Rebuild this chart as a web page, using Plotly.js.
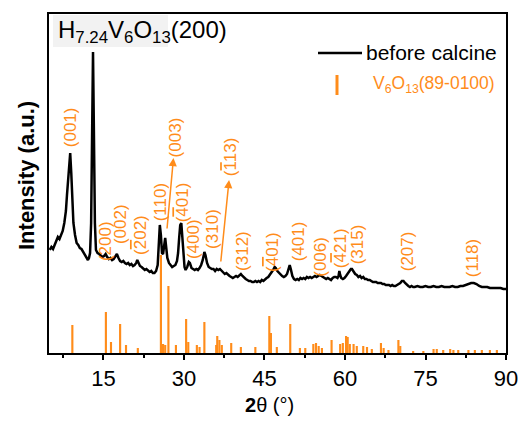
<!DOCTYPE html>
<html>
<head>
<meta charset="utf-8">
<script src="https://cdn.plot.ly/plotly-3.0.1.min.js"></script>
<style>html,body{margin:0;padding:0;background:#fff;}#chart{width:523px;height:421px;}</style>
</head>
<body>
<div id="chart"></div>
<script>
// ---- measured XRD curve (2θ in degrees, intensity in arbitrary units) ----
const twoTheta = [5.0,5.3,5.6,5.9,6.2,6.5,6.8,7.1,7.4,7.7,8.0,8.2,8.4,8.6,8.8,9.0,9.2,9.4,9.7,10.0,10.3,10.6,10.9,11.2,11.5,11.8,12.1,12.3,12.5,12.7,12.9,13.05,13.2,13.4,13.6,13.9,14.2,14.5,14.8,15.1,15.4,15.7,16.0,16.3,16.6,16.9,17.2,17.5,17.8,18.1,18.4,18.7,19.0,19.3,19.6,19.9,20.2,20.5,20.8,21.1,21.3,21.5,21.8,22.1,22.4,22.7,23.0,23.3,23.6,23.9,24.2,24.5,24.8,25.1,25.3,25.5,25.7,25.9,26.1,26.3,26.5,26.7,26.9,27.2,27.5,27.8,28.1,28.4,28.7,28.9,29.1,29.3,29.5,29.7,29.9,30.1,30.3,30.6,30.9,31.1,31.4,31.7,32.0,32.3,32.6,32.9,33.2,33.5,33.8,34.0,34.3,34.6,34.9,35.2,35.5,35.8,36.1,36.4,36.7,37.0,37.3,37.6,37.9,38.2,38.5,38.8,39.1,39.4,39.7,40.0,40.3,40.6,40.9,41.2,41.5,41.8,42.1,42.4,42.7,43.0,43.3,43.6,43.9,44.2,44.5,44.8,45.1,45.4,45.7,46.0,46.3,46.6,46.9,47.1,47.4,47.7,48.0,48.3,48.6,48.9,49.2,49.5,49.7,49.9,50.2,50.5,50.8,51.1,51.4,51.7,52.0,52.3,52.6,52.9,53.2,53.5,53.8,54.1,54.4,54.7,55.0,55.3,55.6,55.9,56.2,56.5,56.8,57.1,57.4,57.7,58.0,58.3,58.6,58.8,58.95,59.1,59.3,59.6,59.9,60.2,60.5,60.8,61.1,61.3,61.6,61.9,62.2,62.5,62.8,63.1,63.4,63.7,64.0,64.3,64.6,64.9,65.2,65.5,65.8,66.1,66.4,66.7,67.0,67.3,67.6,67.9,68.2,68.5,68.8,69.1,69.4,69.7,70.0,70.3,70.6,70.9,71.2,71.5,71.8,72.1,72.4,72.7,73.0,73.5,74.0,74.5,75.0,75.5,76.0,76.5,77.0,77.5,78.0,78.5,79.0,79.5,80.0,80.5,81.0,81.5,82.0,82.5,83.0,83.5,84.0,84.5,85.0,85.5,86.0,86.5,87.0,87.5,88.0,88.5,89.0,89.5,90.0];
const intensity = [103,106,104,108,111,116,114,118,122,130,142,158,175,190,200,180,150,130,118,110,108,105,104,101,99,96,93,95,100,130,220,301,230,130,103,100,99,97,96,97,99,96,94,95,93,94,96,99,95,92,91,92,90,89,90,88,89,87,88,90,93,90,87,86,84,83,84,82,81,82,80,80,82,88,105,128,118,100,99,108,115,105,95,90,88,86,87,88,92,100,115,128,130,118,98,86,83,86,91,90,85,84,83,84,83,85,88,93,101,98,90,86,85,84,84,82,84,83,84,82,80,79,80,78,77,76,75,76,77,76,78,79,77,75,74,73,72,72,71,71,72,71,72,71,73,72,74,75,76,78,80,83,86,85,82,80,78,77,76,77,79,84,88,84,77,74,73,74,73,75,74,75,74,76,75,76,75,76,77,76,77,78,77,76,75,74,75,74,73,75,76,76,75,77,82,78,75,74,75,77,79,82,84,84,81,79,78,76,77,75,76,74,74,73,73,72,71,71,71,70,70,70,69,69,68,68,68,67,68,67,67,68,69,70,72,72,70,68,67,66,67,66,66,67,66,66,67,66,66,67,66,66,67,66,66,66,67,66,66,67,67,68,69,70,70,69,67,66,66,66,65,65,65,65,65,64,64];

// ---- reference pattern V6O13 (89-0100): stick positions and heights ----
const stickX = [9.2,15.45,16.4,18.1,19.2,21.4,25.7,26.1,26.5,27.1,28.5,30.4,30.8,32.4,32.9,33.8,36.0,36.2,36.6,37.05,38.8,40.6,43.3,45.9,46.2,47.3,49.8,51.6,52.6,54.1,54.6,55.1,55.7,57.5,59.1,59.6,60.2,60.5,60.9,61.6,62.2,63.4,64.1,65.0,66.7,67.2,68.1,69.95,70.3,72.7,74.6,76.5,77.1,78.3,79.6,80.2,81.1,83.0,84.2,85.5,87.0,88.3];
const stickY = [28,41,11,29,8,5,98,9,8,67,8,34,11,8,6,31,8,17,13,8,10,6,6,37,20,6,29,5,5,9,10,7,5,13,9,10,17,16,9,9,7,7,6,4,10,5,3,13,7,2,2,4,4,3,4,3,3,3,3,3,3,3];

// ---- peak labels (Miller indices; '~' marks a barred index digit) ----
const labelText = ['(001)','(200)','(002)','(~202)','(110)','(003)','(~401)','(400)','(310)','(~113)','(312)','(~401)','(401)','(006)','(~421)','(315)','(207)','(118)'];
const labelX = [8.8,15.3,18.1,21.8,25.6,28.4,29.7,31.7,35.2,38.6,40.8,46.4,51.3,55.3,59.1,62.3,71.6,83.7];
const labelY = [226,112,129,118,151,216,151,114,124,196,102,101,112,96,105,109,102,95];

// ---- arrows from peaks to displaced labels ----
const arrowTailX = [26.7, 36.7];
const arrowTailY = [116, 83];
const arrowHeadX = [28.04, 38.4];
const arrowHeadY = [195, 173];

const xTicks = [15,30,45,60,75,90];

const ORANGE = '#FF8C1A';
const W = 523, H = 421, L = 49, R = 17, T = 14, B = 68;
const pw = W - L - R, ph = H - T - B;
const px2x = p => (p - L) / pw;
const py2y = p => (H - B - p) / ph;
const fmtLabel = s => s.replace(/~(\d)/, '<span style="text-decoration:overline">$1</span>');

const traces = [
  {type:'bar', x: stickX, y: stickY, width: 0.4, marker:{color: ORANGE, line:{width:0}}, hoverinfo:'skip'},
  {type:'scatter', mode:'lines', x: twoTheta, y: intensity, line:{color:'#000', width:2.5}, hoverinfo:'skip'}
];

const annotations = [];
for (let i = 0; i < labelText.length; i++) {
  annotations.push({x: labelX[i], y: labelY[i], xref:'x', yref:'y', text: fmtLabel(labelText[i]), showarrow:false,
    textangle:-90, font:{family:'Liberation Sans, Arial', size:17, color: ORANGE}, xanchor:'center', yanchor:'middle'});
}
for (let i = 0; i < arrowTailX.length; i++) {
  annotations.push({x: arrowHeadX[i], y: arrowHeadY[i], ax: arrowTailX[i], ay: arrowTailY[i], xref:'x', yref:'y', axref:'x', ayref:'y',
    text:' ', showarrow:true, arrowhead:2, arrowsize:1.1, arrowwidth:1.5, arrowcolor: ORANGE, standoff:0});
}
annotations.push({x: px2x(56), y: py2y(31), xref:'paper', yref:'paper', xanchor:'left', yanchor:'middle',
  text:'H<sub>7.24</sub>V<sub>6</sub>O<sub>13</sub>(200)', showarrow:false, font:{family:'Liberation Sans, Arial', size:24, color:'#000'}});
annotations.push({x: px2x(364), y: py2y(53), xref:'paper', yref:'paper', xanchor:'left', yanchor:'middle',
  text:'before calcine', showarrow:false, font:{family:'Liberation Sans, Arial', size:21, color:'#000'}});
annotations.push({x: px2x(371), y: py2y(84), xref:'paper', yref:'paper', xanchor:'left', yanchor:'middle',
  text:'V<sub>6</sub>O<sub>13</sub>(89-0100)', showarrow:false, font:{family:'Liberation Sans, Arial', size:17.5, color: ORANGE}});
annotations.push({x: px2x(26), y: py2y(176), xref:'paper', yref:'paper', xanchor:'center', yanchor:'middle', textangle:-90,
  text:'<b>Intensity (a.u.)</b>', showarrow:false, font:{family:'Liberation Sans, Arial', size:22, color:'#000'}});
annotations.push({x: px2x(269), y: py2y(405), xref:'paper', yref:'paper', xanchor:'center', yanchor:'middle',
  text:'<b>2</b>θ (°)', showarrow:false, font:{family:'Liberation Sans, Arial', size:20, color:'#000'}});

const shapes = [
  {type:'rect', xref:'paper', yref:'paper', x0: px2x(53), x1: px2x(168), y0: py2y(47), y1: py2y(15), fillcolor:'#f2f2f2', line:{width:0}, layer:'below'},
  {type:'line', xref:'paper', yref:'paper', x0: px2x(318), x1: px2x(362), y0: py2y(53), y1: py2y(53), line:{color:'#000', width:2.4}},
  {type:'line', xref:'paper', yref:'paper', x0: px2x(337), x1: px2x(337), y0: py2y(75), y1: py2y(95), line:{color: ORANGE, width:3}}
];

const layout = {
  width: W, height: H,
  margin:{l:L, r:R, t:T, b:B, pad:0},
  paper_bgcolor:'#fff', plot_bgcolor:'#fff',
  showlegend:false,
  font:{family:'Liberation Sans, Arial', color:'#000'},
  xaxis:{range:[4.85,90], tickvals: xTicks, ticktext: xTicks.map(String), ticks:'outside', ticklen:5, tickwidth:2, tickcolor:'#000',
    minor:{dtick:7.5, tick0:0, ticks:'outside', ticklen:3, tickwidth:2, tickcolor:'#000'},
    showline:true, linewidth:2, linecolor:'#000', mirror:true, showgrid:false, zeroline:false,
    tickfont:{size:22, family:'Liberation Sans, Arial', color:'#000'}},
  yaxis:{range:[0,339], showticklabels:false, ticks:'', showline:true, linewidth:2, linecolor:'#000', mirror:true,
    showgrid:false, zeroline:false},
  annotations: annotations,
  shapes: shapes
};

Plotly.newPlot('chart', traces, layout, {staticPlot:true, displayModeBar:false});
</script>
</body>
</html>
